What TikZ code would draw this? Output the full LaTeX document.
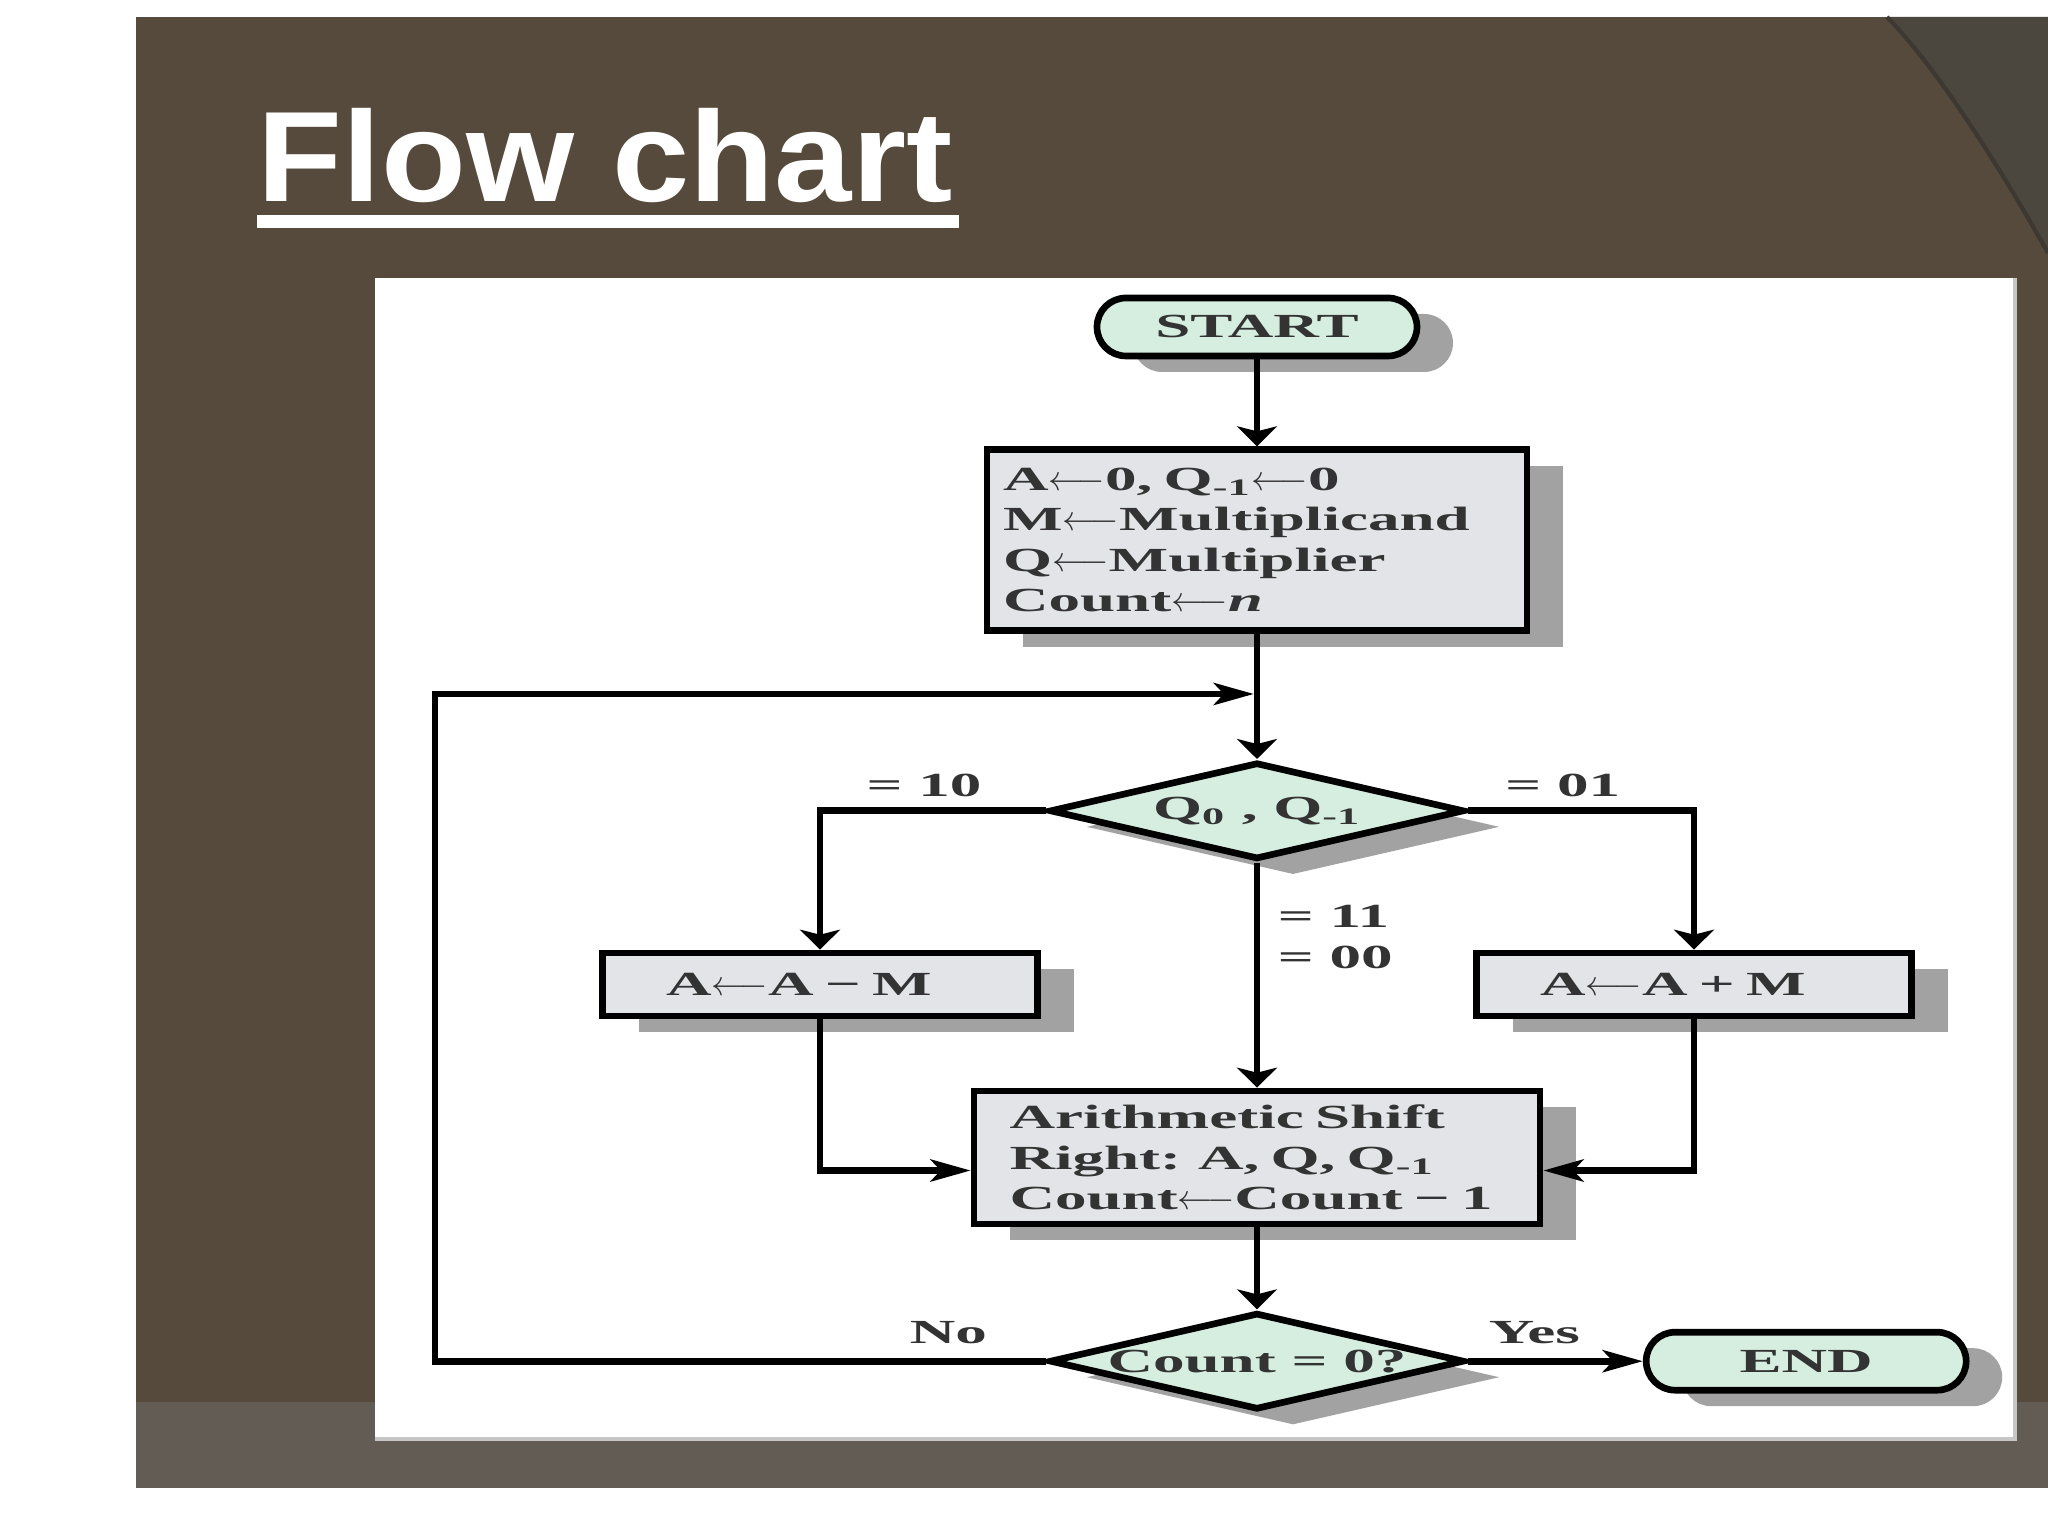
\documentclass[tikz,border=0pt]{standalone}
\usepackage{fontspec}
\newfontfamily\chartfont[FakeStretch=1.87]{Liberation Serif}
\newfontfamily\titlefont[FakeStretch=1.08]{Liberation Sans}
\usetikzlibrary{shapes.geometric, arrows.meta}
\usetikzlibrary{positioning}
\usetikzlibrary{shadows}

\definecolor{slidebrown}{HTML}{564A3C}
\definecolor{slidedark}{HTML}{4C473E}
\definecolor{slideband}{HTML}{625C54}
\definecolor{mint}{HTML}{D5EEDF}
\definecolor{boxgray}{HTML}{E3E4E8}
\definecolor{shadowgray}{HTML}{A2A2A2}
\definecolor{ink}{HTML}{333333}

\newcommand{\asgn}{$\longleftarrow$}

\begin{document}
\begin{tikzpicture}[
                chart/.style={font=\chartfont\bfseries\fontsize{9.6}{11.5}\selectfont, text=ink},
                module/.style={chart, draw=black, line width=1.9pt,
                        drop shadow={shadow xshift=0.36cm, shadow yshift=-0.16cm, fill=shadowgray, opacity=1}},
                term/.style={module, fill=mint, rounded corners=0.29cm, minimum width=3.2cm, minimum height=0.58cm, inner sep=0pt},
                stepbox/.style={module, fill=boxgray, align=left, inner ysep=0pt},
                opbox/.style={stepbox, minimum height=0.63cm, text width=3.08cm, inner xsep=0.635cm},
                check/.style={module, diamond, fill=mint, aspect=4.3, minimum width=4.15cm, minimum height=0.97cm, inner sep=0pt},
                cond/.style={chart, inner sep=1pt},
                flow/.style={draw=black, line width=1.9pt},
                arrowv/.style={flow, -{Stealth[length=0.2cm, width=0.4cm, inset=0.05cm]}},
                arrowh/.style={flow, -{Stealth[length=0.4cm, width=0.22cm, inset=0.1cm]}},
            ]

            % slide
            \useasboundingbox (0,0) rectangle (20.48,15.36);
            \fill[white] (0,0) rectangle (20.48,15.36);
            \fill[slidebrown] (1.36,0.48) rectangle (20.48,15.19);
            \fill[slidedark] (18.87,15.19) .. controls (19.4,14.65) and (20.05,13.6) .. (20.48,12.83) -- (20.48,15.19) -- cycle;
            \draw[slidedark!80!black, line width=1.2pt] (18.87,15.19) .. controls (19.4,14.65) and (20.05,13.6) .. (20.48,12.83);
            \fill[slideband] (1.36,0.48) rectangle (20.48,1.34);
            \fill[white] (3.75,0.97) rectangle (20.15,12.58);
            \draw[gray!45, line width=1pt] (3.75,0.97) -- (20.15,0.97) -- (20.15,12.58);

            \node[anchor=base west, inner sep=0pt, text=white, font=\titlefont\bfseries\fontsize{36.6}{40}\selectfont] (title) at (2.57,13.34) {Flow chart};
            \fill[white] (2.57,13.08) rectangle (9.59,13.21);

            % flow chart
            \node[term] (start_node) at (12.57,12.09) {START};
            \node[stepbox, below=0.87cm of start_node, minimum height=1.81cm, text width=5.08cm, inner xsep=0.16cm] (init_reg)
                {A\asgn0, Q\textsubscript{-1}\asgn0\\ M\asgn Multiplicand\\ Q\asgn Multiplier\\ Count\asgn\textit{n}};
            \node[check, below=1.25cm of init_reg] (check_q) {Q\textsubscript{0} , Q\textsubscript{-1}};
            \node[opbox, below=0.87cm of check_q, xshift=-4.37cm] (sub_mod) {A\asgn A − M};
            \node[opbox, below=0.87cm of check_q, xshift=4.37cm] (add_mod) {A\asgn A + M};
            \node[stepbox, below=2.25cm of check_q, minimum height=1.33cm, text width=4.95cm, inner xsep=0.355cm] (shift_mod)
                {Arithmetic Shift\\ Right: A, Q, Q\textsubscript{-1}\\ Count\asgn Count − 1};
            \node[check, below=0.82cm of shift_mod] (check_count) {Count = 0?};
            \node[term, right=1.75cm of check_count] (end_node) {END};
            \coordinate (loop_left) at (4.35,8.42);

            \draw[arrowv] (start_node) -- (init_reg);
            \draw[arrowv] (init_reg) -- (check_q);
            \draw[arrowv] (check_q.west) -| node[cond, pos=0.27, above=2pt] {= 10} (sub_mod.north);
            \draw[arrowv] (check_q.east) -| node[cond, pos=0.21, above=2pt] {= 01} (add_mod.north);
            \draw[arrowv] (check_q) -- node[cond, pos=0.33, right=0.14cm, align=left] {= 11\\ = 00} (shift_mod);
            \draw[arrowh] (sub_mod) |- ([yshift=-0.13cm]shift_mod.west);
            \draw[arrowh] (add_mod) |- ([yshift=-0.13cm]shift_mod.east);
            \draw[arrowv] (shift_mod) -- (check_count);
            \draw[arrowh] (check_count) -- node[cond, pos=0.38, above=3pt] {Yes} (end_node);
            \draw[arrowh, shorten >=0.9pt] (check_count.west) -| node[cond, pos=0.08, above=3pt] {No} (loop_left) -- (loop_left -| check_q.north);
        \end{tikzpicture}
\end{document}
